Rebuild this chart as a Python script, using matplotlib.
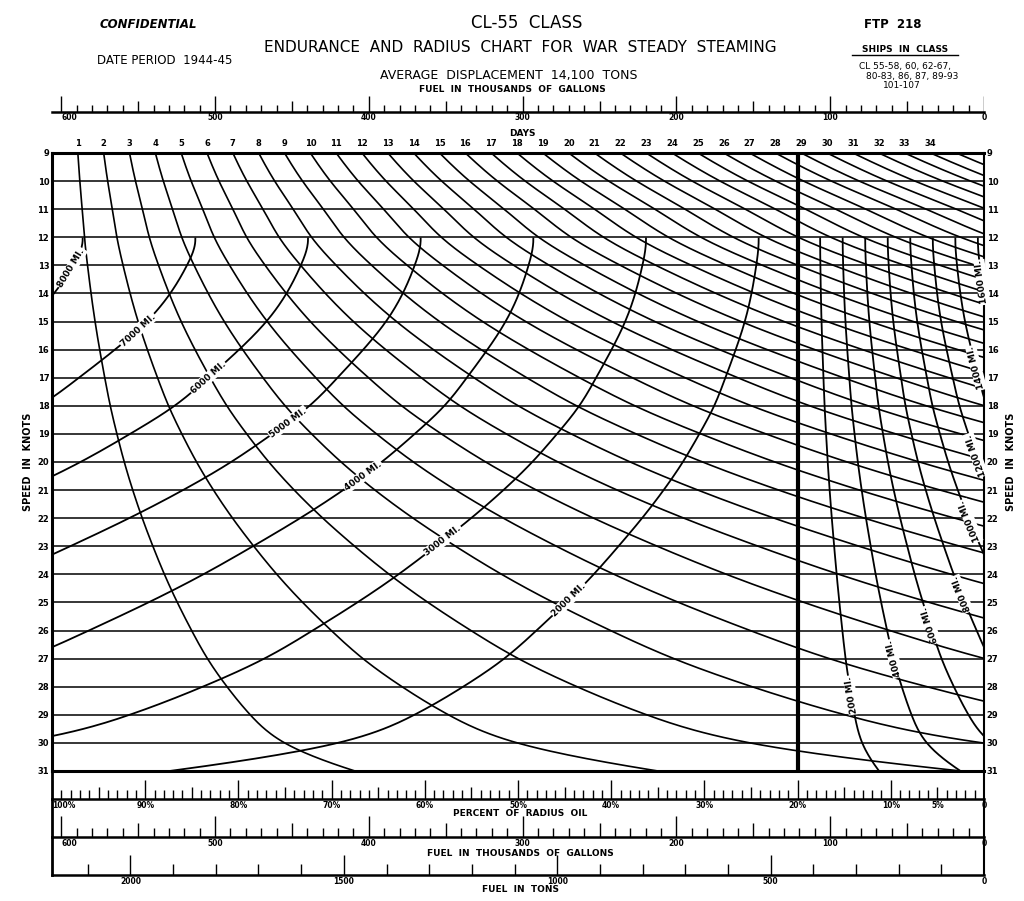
import numpy as np
import matplotlib
matplotlib.use('Agg')
import matplotlib.pyplot as plt
import matplotlib.transforms as mtransforms

plt.rcParams['font.family'] = ['Liberation Sans Narrow', 'DejaVu Sans']
plt.rcParams['font.weight'] = 'bold'

# fuel burnt per day at each speed, thousands of gallons
speeds = list(range(9, 32))
fuel_per_day = [16.8, 18.1, 19.6, 21.1, 23.1, 25.4, 28.0, 31.0, 34.3, 37.9,
                42.2, 47.0, 52.5, 58.7, 65.6, 73.1, 81.5, 90.8, 101.1, 113.8,
                128.9, 151.3, 197.0]
full_load = 606.0          # thousands of gallons = 100 % radius oil
reserve_pct = 20           # heavy line
gal_per_ton = 0.2775       # thousands of gallons per ton
days = list(range(1, 36))
day_labels = list(range(1, 35))
radius_big = [2000, 3000, 4000, 5000, 6000, 7000, 8000]
big_label_speed = [24.9, 22.8, 20.5, 18.6, 17.0, 15.3, 13.1]
radius_small = [200, 400, 600, 800, 1000, 1200, 1400, 1600]
small_label_speed = [28.3, 27.0, 25.8, 24.7, 22.1, 19.75, 16.65, 13.6]
radius_min_speed = 12
pct_labels = [100, 90, 80, 70, 60, 50, 40, 30, 20, 10, 5, 0]
gal_labels = [600, 500, 400, 300, 200, 100, 0]
ton_labels = [2000, 1500, 1000, 500, 0]


def spline(x, y):
    n = len(x) - 1
    h = [x[i+1] - x[i] for i in range(n)]
    alpha = [0.0] * n
    for i in range(1, n):
        alpha[i] = 3 / h[i] * (y[i+1] - y[i]) - 3 / h[i-1] * (y[i] - y[i-1])
    l = [1.0] * (n + 1)
    mu = [0.0] * (n + 1)
    z = [0.0] * (n + 1)
    for i in range(1, n):
        l[i] = 2 * (x[i+1] - x[i-1]) - h[i-1] * mu[i-1]
        mu[i] = h[i] / l[i]
        z[i] = (alpha[i] - h[i-1] * z[i-1]) / l[i]
    b = [0.0] * n
    c = [0.0] * (n + 1)
    d = [0.0] * n
    for i in range(n - 1, -1, -1):
        c[i] = z[i] - mu[i] * c[i+1]
        b[i] = (y[i+1] - y[i]) / h[i] - h[i] * (c[i+1] + 2 * c[i]) / 3
        d[i] = (c[i+1] - c[i]) / (3 * h[i])
    return b, c[:-1], d


log_rate = np.log(fuel_per_day)
sb, sc, sd = spline(speeds, list(log_rate))


def rate_at(s):
    s = np.asarray(s, float)
    i = np.clip(np.searchsorted(speeds, s, side='right') - 1, 0, len(speeds) - 2)
    dx = s - np.asarray(speeds)[i]
    return np.exp(log_rate[i] + np.asarray(sb)[i] * dx + np.asarray(sc)[i] * dx**2
                  + np.asarray(sd)[i] * dx**3)


def per_mile(s):
    return rate_at(s) / (24 * np.asarray(s, float))


W, H = 1024, 901
fig = plt.figure(figsize=(W / 100, H / 100), dpi=100)


def box(x0, y0, x1, y1):
    return [x0 / W, 1 - y1 / H, (x1 - x0) / W, (y1 - y0) / H]


def ftext(x, y, s, **kw):
    fig.text(x / W, 1 - y / H, s, ha='center', va='center', **kw)


ax = fig.add_axes(box(52, 153, 984, 771))
ax.set_xlim(full_load, 0)
ax.set_ylim(31, 9)
ax.set_xticks([])
ax.set_yticks(speeds)
ax.tick_params(axis='y', length=0, labelsize=6, labelright=True, pad=2)
for k in ['left', 'top', 'bottom']:
    ax.spines[k].set_linewidth(2.2)
ax.spines['right'].set_linewidth(1.5)

ax.hlines(speeds, 0, full_load, color='black', lw=1.1)

v = np.linspace(9, 31, 500)
for t in days:
    ax.plot(full_load - t * rate_at(v), v, color='black', lw=1.2)

reserve = full_load * reserve_pct / 100
ax.axvline(reserve, color='black', lw=3.0)

vr = v[v >= radius_min_speed]
for r in radius_big:
    ax.plot(r * per_mile(vr), vr, color='black', lw=1.3)
for r in radius_small:
    ax.plot(reserve - r * per_mile(vr), vr, color='black', lw=1.3)


def put_label(curve, s, text):
    p0 = ax.transData.transform((curve(s + 0.25), s + 0.25))
    p1 = ax.transData.transform((curve(s - 0.25), s - 0.25))
    ang = np.degrees(np.arctan2(p1[1] - p0[1], p1[0] - p0[0]))
    ax.text(curve(s), s, text, rotation=ang, rotation_mode='anchor',
            ha='center', va='center', fontsize=6.5, zorder=5,
            bbox=dict(fc='white', ec='none', pad=0.8))


for r, s in zip(radius_big, big_label_speed):
    put_label(lambda q, r=r: r * per_mile(q), s, f'{r} MI.')
for r, s in zip(radius_small, small_label_speed):
    put_label(lambda q, r=r: reserve - r * per_mile(q), s, f'{r} MI.')

# day numbers along the top edge
top = mtransforms.blended_transform_factory(ax.transData, ax.transAxes)
for t in day_labels:
    ax.text(full_load - t * fuel_per_day[0], 1 + 10 / 618, str(t), transform=top,
            ha='center', va='center', fontsize=6)
ftext(522, 134, 'DAYS', fontsize=6.5)

ax.text(-24 / 932, 0.5, 'SPEED  IN  KNOTS', transform=ax.transAxes, rotation=90,
        ha='center', va='center', fontsize=7)
ax.text(1 + 27 / 932, 0.5, 'SPEED  IN  KNOTS', transform=ax.transAxes, rotation=90,
        ha='center', va='center', fontsize=7)


def scale(y0, y1, left_value, step, long_every, mid_every, lens, labels, fmt,
          title, title_y, sides=True, label_gap=6):
    s = fig.add_axes(box(52, y0, 984, y1))
    s.set_xlim(left_value, 0)
    s.set_ylim(0, y1 - y0)
    s.set_xticks([])
    s.set_yticks([])
    s.patch.set_visible(False)
    s.spines['top'].set_visible(False)
    for k in ['left', 'right']:
        s.spines[k].set_visible(sides)
        s.spines[k].set_linewidth(2.0 if k == 'left' else 1.5)
    s.spines['bottom'].set_linewidth(1.8)
    marks = np.arange(0, left_value + 1e-6, step)
    for m in marks:
        if abs(m / long_every - round(m / long_every)) < 1e-6:
            hgt = lens[0]
        elif abs(m / mid_every - round(m / mid_every)) < 1e-6:
            hgt = lens[1]
        else:
            hgt = lens[2]
        s.vlines(m, 0, hgt, color='black', lw=1.0)
    for lab in labels:
        ha = 'center'
        if lab == labels[0] and lab * 1.0 >= left_value * 0.97:
            ha = 'left'
        s.text(lab, -label_gap, fmt(lab), ha=ha, va='center', fontsize=5.5, clip_on=False)
    if title:
        ftext(520, title_y, title, fontsize=6.5)
    return s


scale(90, 112, full_load, 10, 100, 50, (16, 11, 7), gal_labels, str, None, 0,
      sides=False)
scale(771, 799, 100, 1, 10, 5, (19, 12, 9), pct_labels,
      lambda p: f'{p}%' if p else '0', 'PERCENT  OF  RADIUS  OIL', 814)
scale(799, 837, full_load, 10, 100, 50, (21, 14, 9), gal_labels, str,
      'FUEL  IN  THOUSANDS  OF  GALLONS', 853)
scale(837, 875, full_load / gal_per_ton, 100, 500, 500, (20, 20, 11), ton_labels,
      str, 'FUEL  IN  TONS', 890)

# heading
ftext(148, 24, 'CONFIDENTIAL', fontsize=8.5, style='italic')
ftext(527, 23, 'CL-55  CLASS', fontsize=12, weight='normal')
ftext(893, 24, 'FTP  218', fontsize=8.5)
ftext(520, 48, 'ENDURANCE  AND  RADIUS  CHART  FOR  WAR  STEADY  STEAMING',
      fontsize=11, weight='normal')
ftext(165, 61, 'DATE PERIOD  1944-45', fontsize=8.5, weight='normal')
ftext(509, 75, 'AVERAGE  DISPLACEMENT  14,100  TONS', fontsize=9, weight='normal')
ftext(512, 89, 'FUEL  IN  THOUSANDS  OF  GALLONS', fontsize=6.5)
ftext(905, 49, 'SHIPS  IN  CLASS', fontsize=6.5)
fig.add_artist(plt.Line2D([852 / W, 958 / W], [1 - 55 / H, 1 - 55 / H],
                          transform=fig.transFigure, color='black', lw=1.0))
ftext(905, 66, 'CL 55-58, 60, 62-67,', fontsize=6.5, weight='normal')
ftext(912, 76, '80-83, 86, 87, 89-93', fontsize=6.5, weight='normal')
ftext(902, 86, '101-107', fontsize=6.5, weight='normal')

fig.savefig('out.png', dpi=100, facecolor='white')
